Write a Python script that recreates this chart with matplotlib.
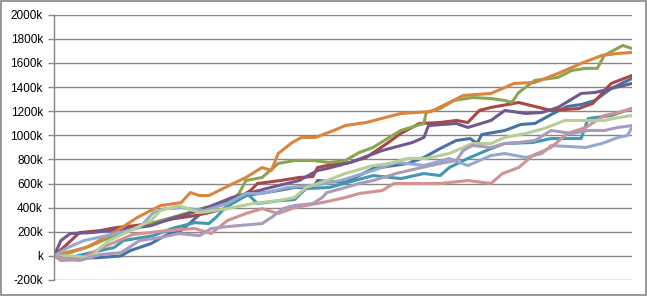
import matplotlib.pyplot as plt
from matplotlib.patches import Rectangle

# Дни (ось X) и значения (в тысячах) для каждого ряда.
blue_x = [0, 9, 20, 29, 33, 42, 48, 55, 65, 75, 83, 97, 104, 112, 114, 126, 138, 153, 160, 167,
          174, 180, 183, 185, 195, 202, 208, 215, 222, 228, 234, 241, 250]
blue_y = [0, -22, -14, 0, 44, 102, 168, 210, 376, 459, 500, 542, 567, 567, 625, 608, 724, 766, 816, 890,
          957, 973, 932, 1006, 1040, 1090, 1098, 1172, 1239, 1255, 1289, 1388, 1471]

red_x = [0, 5, 11, 20, 27, 35, 44, 52, 61, 67, 74, 80, 85, 88, 98, 106, 112, 114, 118, 128, 135,
         144, 150, 158, 167, 174, 179, 184, 189, 201, 215, 227, 233, 241, 250]
red_y = [0, 85, 193, 210, 235, 251, 276, 309, 334, 359, 392, 484, 542, 600, 625, 650, 658, 733, 749,
         774, 816, 932, 1015, 1098, 1106, 1123, 1106, 1206, 1231, 1272, 1206, 1222, 1264, 1430, 1496]

green_x = [0, 7, 16, 29, 43, 54, 65, 75, 80, 83, 90, 97, 104, 112, 119, 126, 132, 138, 145, 150,
           160, 161, 167, 173, 181, 189, 195, 198, 201, 208, 218, 224, 230, 235, 238, 246, 250]
green_y = [0, 27, 85, 193, 276, 334, 400, 434, 517, 625, 650, 766, 791, 791, 774, 791, 857, 899, 982,
           1040, 1098, 1189, 1222, 1289, 1313, 1305, 1289, 1272, 1355, 1455, 1480, 1538, 1555, 1555,
           1662, 1745, 1720]

purple_x = [0, 3, 7, 16, 24, 33, 42, 52, 63, 77, 92, 106, 114, 118, 128, 142, 150, 155, 160, 162,
            174, 179, 189, 195, 204, 211, 218, 228, 234, 241, 250]
purple_y = [0, 127, 185, 193, 210, 227, 251, 317, 376, 484, 559, 625, 708, 724, 774, 874, 915, 940,
            982, 1081, 1098, 1065, 1123, 1206, 1181, 1189, 1231, 1347, 1355, 1388, 1430]

teal_x = [0, 7, 16, 26, 30, 43, 51, 61, 67, 70, 74, 84, 88, 98, 104, 109, 119, 138, 150, 160, 167,
          171, 179, 189, 195, 207, 215, 228, 231, 241, 250]
teal_y = [0, -14, 27, 69, 127, 168, 227, 276, 268, 318, 400, 509, 434, 459, 467, 558, 567, 666, 641,
          683, 666, 733, 808, 890, 932, 940, 973, 973, 1139, 1164, 1222]

orange_x = [0, 5, 14, 26, 36, 46, 55, 59, 63, 67, 74, 83, 90, 94, 97, 103, 107, 113, 121, 126, 135,
            150, 163, 171, 177, 189, 199, 208, 218, 228, 237, 244, 250]
orange_y = [0, 27, 69, 193, 318, 417, 442, 525, 500, 500, 567, 650, 733, 708, 849, 940, 982, 982,
            1040, 1081, 1106, 1181, 1197, 1272, 1330, 1347, 1430, 1438, 1513, 1596, 1662, 1679, 1687]

ltblue_x = [0, 6, 13, 27, 37, 43, 48, 55, 65, 75, 83, 90, 101, 112, 124, 138, 148, 153, 160, 171,
            179, 189, 195, 204, 211, 215, 230, 237, 244, 248, 250]
ltblue_y = [0, 69, 127, 185, 235, 359, 392, 400, 376, 434, 517, 517, 567, 583, 625, 708, 774, 766,
            749, 808, 749, 832, 849, 816, 849, 915, 899, 932, 982, 998, 1065]

pink_x = [0, 3, 11, 20, 34, 49, 61, 68, 75, 83, 90, 97, 104, 116, 126, 132, 142, 147, 157, 167, 179,
          189, 194, 201, 207, 215, 222, 230, 238, 244, 250]
pink_y = [0, -39, -31, 61, 177, 210, 227, 185, 293, 351, 392, 351, 400, 442, 484, 517, 542, 600, 600,
          600, 625, 600, 683, 733, 832, 899, 1015, 1065, 1164, 1189, 1222]

ltgreen_x = [0, 7, 16, 20, 24, 33, 42, 46, 54, 63, 75, 86, 97, 104, 109, 118, 126, 138, 145, 153,
             161, 171, 181, 189, 195, 204, 212, 221, 230, 238, 244, 250]
ltgreen_y = [0, 0, -14, 69, 127, 210, 293, 376, 417, 359, 392, 434, 459, 484, 567, 625, 683, 749,
             766, 808, 808, 849, 932, 932, 982, 1015, 1056, 1123, 1123, 1123, 1147, 1164]

lavender_x = [0, 5, 11, 20, 29, 37, 46, 54, 63, 68, 75, 90, 94, 99, 104, 112, 116, 118, 126, 132,
              138, 148, 157, 167, 174, 177, 181, 189, 195, 201, 208, 215, 224, 231, 238, 244, 250]
lavender_y = [0, -22, -39, 11, 27, 127, 152, 185, 168, 227, 243, 268, 318, 392, 417, 434, 484, 525,
              567, 600, 625, 683, 724, 766, 791, 874, 915, 899, 932, 940, 957, 1040, 1015, 1040,
              1040, 1065, 1081]

series = [
    (blue_x, blue_y, '#4572A7'),
    (red_x, red_y, '#AA4643'),
    (green_x, green_y, '#89A54E'),
    (purple_x, purple_y, '#71588F'),
    (teal_x, teal_y, '#4198AF'),
    (orange_x, orange_y, '#DB843D'),
    (ltblue_x, ltblue_y, '#93A9CF'),
    (pink_x, pink_y, '#D19392'),
    (ltgreen_x, ltgreen_y, '#B9CD96'),
    (lavender_x, lavender_y, '#A99BBD'),
]

yticks = [-200, 0, 200, 400, 600, 800, 1000, 1200, 1400, 1600, 1800, 2000]
ylabels = ['-200k', 'k', '200k', '400k', '600k', '800k', '1000k', '1200k', '1400k',
           '1600k', '1800k', '2000k']

plt.rcParams['font.family'] = ['Liberation Sans', 'DejaVu Sans']

fig = plt.figure(figsize=(6.47, 2.96), dpi=100)
ax = fig.add_axes([54 / 647, 1 - 280 / 296, 578 / 647, (280 - 14.7) / 296])

for xs, ys, c in series:
    ax.plot(xs, ys, color=c, lw=2.2, solid_joinstyle='round')

ax.set_xlim(0, 250)
ax.set_ylim(-200, 2000)
ax.set_yticks(yticks)
ax.set_yticklabels(ylabels)
ax.set_xticks([])
ax.grid(axis='y', color='#868686', lw=1)
ax.set_axisbelow(True)
for side in ['top', 'right', 'bottom']:
    ax.spines[side].set_visible(False)
ax.spines['left'].set_color('#868686')
ax.spines['left'].set_linewidth(1)
ax.tick_params(axis='y', length=4, color='#868686', width=1, labelsize=8.5, pad=4)

fig.add_artist(Rectangle((0.001, 0.003), 0.997, 0.994, transform=fig.transFigure,
                         fill=False, edgecolor='#868686', lw=1.2))

fig.savefig('out.png', dpi=100)
